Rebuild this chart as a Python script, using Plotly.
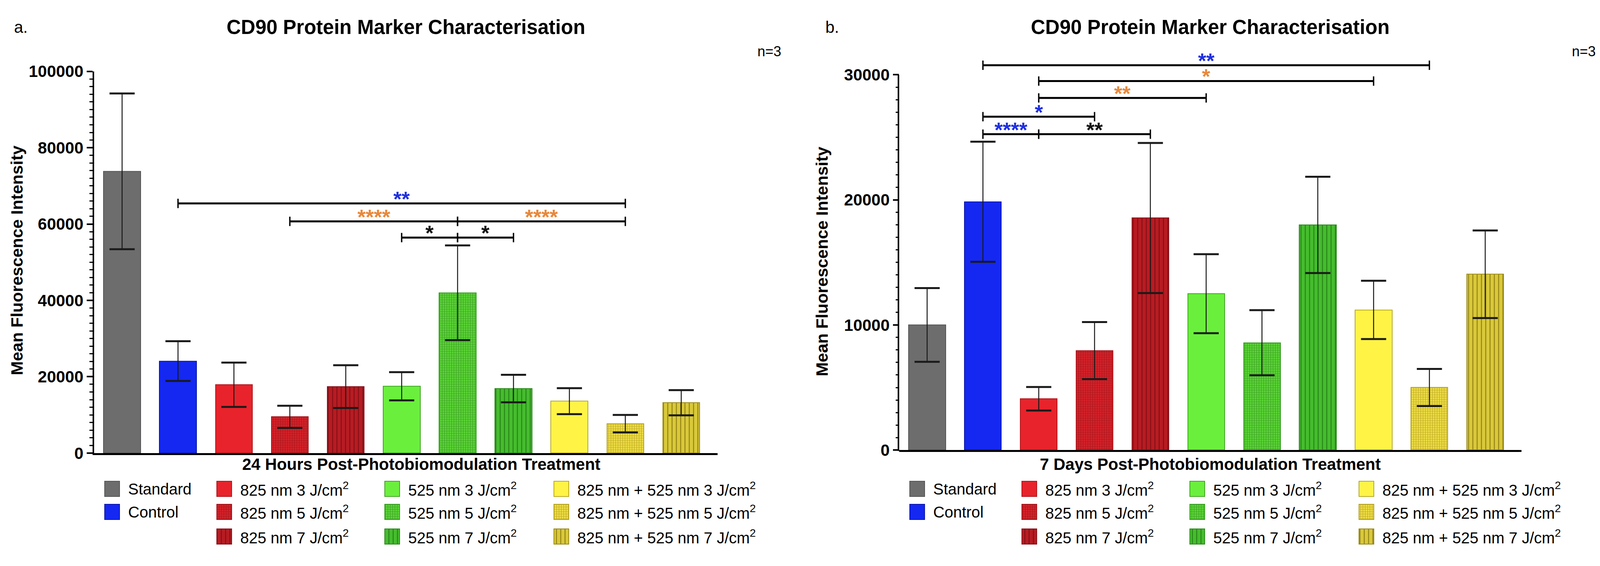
import plotly.graph_objects as go

# ---------------- data ----------------
categories = [
    "Standard", "Control",
    "825 nm 3 J/cm<sup>2</sup>", "825 nm 5 J/cm<sup>2</sup>", "825 nm 7 J/cm<sup>2</sup>",
    "525 nm 3 J/cm<sup>2</sup>", "525 nm 5 J/cm<sup>2</sup>", "525 nm 7 J/cm<sup>2</sup>",
    "825 nm + 525 nm 3 J/cm<sup>2</sup>", "825 nm + 525 nm 5 J/cm<sup>2</sup>",
    "825 nm + 525 nm 7 J/cm<sup>2</sup>",
]
mean_24h = [73800, 24100, 17900, 9500, 17400, 17500, 42000, 16900, 13600, 7700, 13200]
err_24h = [20400, 5200, 5800, 2900, 5600, 3700, 12400, 3600, 3400, 2300, 3300]
mean_7d = [10000, 19850, 4100, 7950, 18550, 12500, 8580, 18000, 11200, 5000, 14050]
err_7d = [2950, 4800, 940, 2280, 6000, 3160, 2600, 3850, 2330, 1480, 3500]

# significance brackets: (first category index, last category index), label, colour key, height
pairs_24h = [(1, 9), (3, 6), (6, 9), (5, 6), (6, 7)]
labels_24h = ["**", "****", "****", "*", "*"]
sigcol_24h = ["blue", "orange", "orange", "black", "black"]
heights_24h = [65400, 60700, 60700, 56450, 56450]

pairs_7d = [(1, 9), (2, 8), (2, 5), (1, 3), (1, 2), (2, 4)]
labels_7d = ["**", "*", "**", "*", "****", "**"]
sigcol_7d = ["blue", "orange", "orange", "blue", "blue", "black"]
heights_7d = [30760, 29500, 28150, 26650, 25250, 25250]

yticks_24h = [0, 20000, 40000, 60000, 80000, 100000]
yticks_7d = [0, 10000, 20000, 30000]

# legend layout: columns of category indices
legend_columns = [[0, 1], [2, 3, 4], [5, 6, 7], [8, 9, 10]]

# ---------------- styles ----------------
bar_colors = ["#6d6d6d", "#1428f2", "#e8232b", "#d6222a", "#b71c22",
              "#6af03c", "#5bd636", "#45bd2e", "#fff445", "#efdf45", "#d9c93a"]
edge_colors = ["#555555", "#0b16a8", "#b3151b", "#a5141a", "#86121a",
               "#3fa522", "#379e22", "#2b8a1b", "#b9a820", "#b3a220", "#9a8a18"]
pattern_shapes = ["", "", "", "+", "|", "", "+", "|", "", "+", "|"]
pattern_fg = ["", "", "", "#a8151b", "#8a1016", "", "#3a9e22", "#2a8a1a", "", "#bda722", "#9a8a18"]
sig_colors = {"blue": "#1f2fe0", "orange": "#e8883a", "black": "#111111"}

FONT = "Liberation Sans"
W, H = 4116, 1449

panels = [
    dict(xa="x", ya="y", mean=mean_24h, err=err_24h, pairs=pairs_24h, labels=labels_24h,
         sigcol=sigcol_24h, heights=heights_24h, ax_px=241, end_px=1837, top_px=165, bot_px=1175,
         yrange=[0, 100000], yticks=yticks_24h, minor=2000, title_x=1039, xt_x=1078,
         xt_text="24 Hours Post-Photobiomodulation Treatment", letter="a.", letter_x=34,
         n_x=2002, yt_x=43, yt_y=665),
    dict(xa="x2", ya="y2", mean=mean_7d, err=err_7d, pairs=pairs_7d, labels=labels_7d,
         sigcol=sigcol_7d, heights=heights_7d, ax_px=2302, end_px=3895, top_px=131, bot_px=1167,
         yrange=[0, 31300], yticks=yticks_7d, minor=1000, title_x=3098, xt_x=3098,
         xt_text="7 Days Post-Photobiomodulation Treatment", letter="b.", letter_x=2111,
         n_x=4087, yt_x=2104, yt_y=668),
]

fig = go.Figure()
shapes = []
annotations = []


def pattern_for(i):
    if pattern_shapes[i]:
        size = 11 if pattern_shapes[i] == "|" else 6
        sol = 0.25 if pattern_shapes[i] == "|" else 0.35
        return dict(shape=pattern_shapes[i], fgcolor=pattern_fg[i], bgcolor=bar_colors[i],
                    size=size, solidity=sol, fillmode="replace")
    return dict(shape="")


for p in panels:
    # bars with thin error stems
    for i, cat in enumerate(categories):
        fig.add_trace(go.Bar(
            x=[cat], y=[p["mean"][i]], width=0.66,
            marker=dict(color=bar_colors[i], line=dict(color=edge_colors[i], width=2),
                        pattern=pattern_for(i)),
            error_y=dict(type="data", array=[p["err"][i]], visible=True,
                         color="#1a1a1a", thickness=2.5, width=0),
            xaxis=p["xa"], yaxis=p["ya"], showlegend=False, name=cat,
        ))
    # thick error caps (mean +/- error)
    cap_x = categories + categories
    cap_y = [m + e for m, e in zip(p["mean"], p["err"])] + \
            [m - e for m, e in zip(p["mean"], p["err"])]
    fig.add_trace(go.Scatter(
        x=cap_x, y=cap_y, mode="markers", xaxis=p["xa"], yaxis=p["ya"], showlegend=False,
        hoverinfo="skip",
        marker=dict(symbol="line-ew", size=46, color="#1a1a1a",
                    line=dict(color="#1a1a1a", width=5)),
    ))
    # significance brackets
    for (a, b), lab, ck, h in zip(p["pairs"], p["labels"], p["sigcol"], p["heights"]):
        shapes.append(dict(type="line", xref=p["xa"], yref=p["ya"], x0=a, x1=b, y0=h, y1=h,
                           line=dict(color="black", width=5)))
        for xe in (a, b):
            shapes.append(dict(type="line", xref=p["xa"], yref=p["ya"], x0=xe, x1=xe,
                               ysizemode="pixel", yanchor=h, y0=-12, y1=12,
                               line=dict(color="black", width=3.5)))
        annotations.append(dict(xref=p["xa"], yref=p["ya"], x=(a + b) / 2, y=h,
                                text="<b>" + lab + "</b>", showarrow=False, yanchor="bottom",
                                yshift=-20, font=dict(family=FONT, size=54, color=sig_colors[ck])))

# ---------------- axes ----------------
layout_axes = {}
for k, p in enumerate(panels):
    sfx = "" if k == 0 else "2"
    xdom = [p["ax_px"] / W, p["end_px"] / W]
    ydom = [1 - p["bot_px"] / H, 1 - p["top_px"] / H]
    layout_axes["xaxis" + sfx] = dict(
        domain=xdom, type="category", categoryorder="array", categoryarray=categories,
        range=[-0.5, 10.65], showticklabels=False, ticks="", showline=True,
        linecolor="black", linewidth=5, showgrid=False, zeroline=False,
        anchor="y" + sfx)
    minor_vals = [v for v in range(0, p["yticks"][-1] + 1, p["minor"]) if v not in p["yticks"]]
    layout_axes["yaxis" + sfx] = dict(
        domain=ydom, range=p["yrange"], tickmode="array", tickvals=p["yticks"],
        ticktext=[str(v) for v in p["yticks"]], ticks="outside", ticklen=15, tickwidth=4,
        tickcolor="black", showline=(k == 0), linecolor="black", linewidth=4,
        showgrid=False, zeroline=False, anchor="x" + sfx,
        tickfont=dict(family=FONT, size=42, color="black", weight="bold"),
        minor=dict(tickmode="array", tickvals=minor_vals, ticks="outside", ticklen=8,
                   tickwidth=3, tickcolor="black", showgrid=False))
    if k == 1:
        # axis line drawn only up to the top tick (as in the original)
        top_val = p["yticks"][-1]
        y_top = ydom[0] + (ydom[1] - ydom[0]) * top_val / p["yrange"][1]
        shapes.append(dict(type="line", xref="paper", yref="paper", x0=xdom[0] - 2 / W,
                           x1=xdom[0] - 2 / W, y0=ydom[0] - 2.5 / H, y1=y_top,
                           line=dict(color="black", width=4)))

# pixel-space overlay axes for legend and texts
layout_axes["xaxis3"] = dict(domain=[0, 1], range=[0, W], visible=False, anchor="y3",
                             fixedrange=True)
layout_axes["yaxis3"] = dict(domain=[0, 1], range=[H, 0], visible=False, anchor="x3",
                             fixedrange=True)

# ---------------- legend (swatches + labels) ----------------
col_offsets = [27, 314, 744, 1177]
row_centers = [1270, 1331, 1396]
sw_w, sw_h = 38, 40
for p in panels:
    for c, col in enumerate(legend_columns):
        for r, i in enumerate(col):
            left = p["ax_px"] + col_offsets[c]
            fig.add_trace(go.Bar(
                x=[left + sw_w / 2], y=[-sw_h], base=[row_centers[r] + sw_h / 2], width=sw_w,
                marker=dict(color=bar_colors[i], line=dict(color=edge_colors[i], width=2),
                            pattern=pattern_for(i)),
                xaxis="x3", yaxis="y3", showlegend=False, name=categories[i], hoverinfo="skip"))
            annotations.append(dict(xref="x3", yref="y3", x=left + 58, y=row_centers[r],
                                    text=categories[i], showarrow=False, xanchor="left",
                                    yanchor="middle",
                                    font=dict(family=FONT, size=40, color="black")))

# ---------------- titles & labels ----------------
for p in panels:
    annotations.append(dict(xref="x3", yref="y3", x=p["title_x"], y=48,
                            text="<b>CD90 Protein Marker Characterisation</b>", showarrow=False,
                            xanchor="center", yanchor="middle",
                            font=dict(family=FONT, size=51, color="black")))
    annotations.append(dict(xref="x3", yref="y3", x=p["letter_x"], y=48, text=p["letter"],
                            showarrow=False, xanchor="left", yanchor="middle",
                            font=dict(family=FONT, size=42, color="black")))
    annotations.append(dict(xref="x3", yref="y3", x=p["n_x"], y=112, text="n=3",
                            showarrow=False, xanchor="right", yanchor="middle",
                            font=dict(family=FONT, size=36, color="black")))
    annotations.append(dict(xref="x3", yref="y3", x=p["xt_x"], y=1205,
                            text="<b>" + p["xt_text"] + "</b>", showarrow=False,
                            xanchor="center", yanchor="middle",
                            font=dict(family=FONT, size=42, color="black")))
    annotations.append(dict(xref="x3", yref="y3", x=p["yt_x"], y=p["yt_y"],
                            text="<b>Mean Fluorescence Intensity</b>", showarrow=False,
                            textangle=-90, xanchor="center", yanchor="middle",
                            font=dict(family=FONT, size=43, color="black")))

fig.update_layout(
    width=W, height=H, margin=dict(l=0, r=0, t=0, b=0, pad=0),
    paper_bgcolor="white", plot_bgcolor="rgba(0,0,0,0)",
    barmode="overlay", bargap=0, showlegend=False, hovermode=False,
    shapes=shapes, annotations=annotations,
    font=dict(family=FONT, color="black"),
    **layout_axes,
)

fig.write_html(
    "out.html",
    config={"displayModeBar": False},
    post_script="document.body.style.margin='0';document.body.style.overflow='hidden';",
)
